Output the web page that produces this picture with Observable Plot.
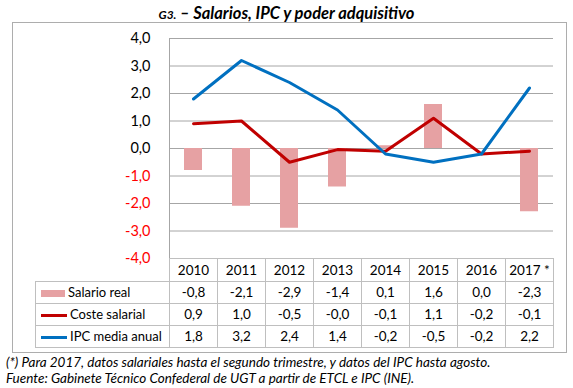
<!DOCTYPE html>
<html><head><meta charset="utf-8">
<script src="https://cdn.jsdelivr.net/npm/d3@7"></script>
<script src="https://cdn.jsdelivr.net/npm/@observablehq/plot@0.6"></script>
<style>
body{margin:0;width:573px;height:388px;position:relative;background:#fff;font-family:Lato,"Open Sans",sans-serif;overflow:hidden}
#title{position:absolute;left:0;top:3px;width:573px;text-align:center;font-weight:bold;font-style:italic;font-size:16.5px;color:#000}
#title .g{font-size:12px}
#frame{position:absolute;left:12px;top:22px;width:553px;height:329px;border:1px solid #ADADAD}
#plot{position:absolute;left:0;top:0}
#tbl{position:absolute;left:35px;top:258px;border-collapse:collapse;font-size:13.5px;color:#000}
#tbl td{border:1px solid #BFBFBF;text-align:center;padding:0;height:21px;line-height:21px}
#tbl td.blank{border:none}
#tbl td.leg{text-align:left;white-space:nowrap;font-size:13px}
.sw{display:inline-block;vertical-align:middle;margin:0 3px 0 5px}
#foot{position:absolute;left:6px;top:354px;font-style:italic;font-size:13.5px;line-height:16px;color:#000;white-space:nowrap}
</style></head>
<body>
<div id="title"><span class="g">G3.</span> – Salarios, IPC y poder adquisitivo</div>
<div id="frame"></div>
<div id="plot"></div>
<table id="tbl"></table>
<div id="foot">(*) Para 2017, datos salariales hasta el segundo trimestre, y datos del IPC hasta agosto.<br>Fuente: Gabinete Técnico Confederal de UGT a partir de ETCL e IPC (INE).</div>
<script>
const years = ["2010","2011","2012","2013","2014","2015","2016","2017 *"];
const salarioReal = [-0.8,-2.1,-2.9,-1.4,0.1,1.6,0.0,-2.3];
const costeSalarial = [0.9,1.0,-0.5,-0.04,-0.1,1.1,-0.2,-0.1];
const ipc = [1.8,3.2,2.4,1.4,-0.2,-0.5,-0.2,2.2];
const yTicks = [-4,-3,-2,-1,0,1,2,3,4];
const seriesNames = ["Salario real","Coste salarial","IPC media anual"];

const data = years.map((y,i)=>({year:y, salario:salarioReal[i], coste:costeSalarial[i], ipc:ipc[i]}));
const fmt = d => (+d).toFixed(1).replace(".",",");

const chart = Plot.plot({
  width:573, height:272,
  marginLeft:169, marginRight:20, marginTop:38, marginBottom:14,
  style:{fontFamily:"Lato, 'Open Sans', sans-serif", fontSize:"14.5px", background:"transparent", overflow:"visible"},
  x:{type:"band", domain:years, padding:0, axis:null},
  y:{domain:[-4,4], axis:null},
  marks:[
    Plot.ruleY(yTicks,{stroke:"#A6A6A6", strokeWidth:1}),
    Plot.barY(data,{x:"year", y:"salario", fill:"#E6A1A3", insetLeft:15, insetRight:15}),
    Plot.line(data,{x:"year", y:"coste", stroke:"#C00000", strokeWidth:3, strokeLinejoin:"round"}),
    Plot.line(data,{x:"year", y:"ipc", stroke:"#0070C0", strokeWidth:3, strokeLinejoin:"round"}),
    Plot.axisY(yTicks.filter(d=>d>=0),{tickSize:0, tickPadding:19, tickFormat:fmt, fill:"#000", fontSize:14.5}),
    Plot.axisY(yTicks.filter(d=>d<0),{tickSize:0, tickPadding:19, tickFormat:fmt, fill:"#FF0000", fontSize:14.5}),
    Plot.frame({anchor:"left", stroke:"#A6A6A6"})
  ]
});
document.getElementById("plot").appendChild(chart);

// data table
const tbl = document.getElementById("tbl");
const cg = document.createElement("colgroup");
[134,...years.map(()=>48)].forEach(w=>{const c=document.createElement("col");c.style.width=w+"px";cg.appendChild(c);});
tbl.appendChild(cg);
let tr = document.createElement("tr");
let td = document.createElement("td"); td.className="blank"; tr.appendChild(td);
years.forEach(y=>{const c=document.createElement("td");c.textContent=y;c.style.height="22px";tr.appendChild(c);});
tbl.appendChild(tr);
const rows = [salarioReal, costeSalarial, ipc];
const swatches = [
  '<span class="sw" style="width:24px;height:7px;background:#E6A1A3"></span>',
  '<span class="sw" style="width:26px;height:3px;background:#C00000"></span>',
  '<span class="sw" style="width:26px;height:3px;background:#0070C0"></span>'
];
rows.forEach((vals,r)=>{
  const row=document.createElement("tr");
  const l=document.createElement("td"); l.className="leg"; l.innerHTML=swatches[r]+seriesNames[r]; row.appendChild(l);
  vals.forEach(v=>{const c=document.createElement("td");c.textContent=fmt(v);row.appendChild(c);});
  tbl.appendChild(row);
});
</script>
</body></html>
